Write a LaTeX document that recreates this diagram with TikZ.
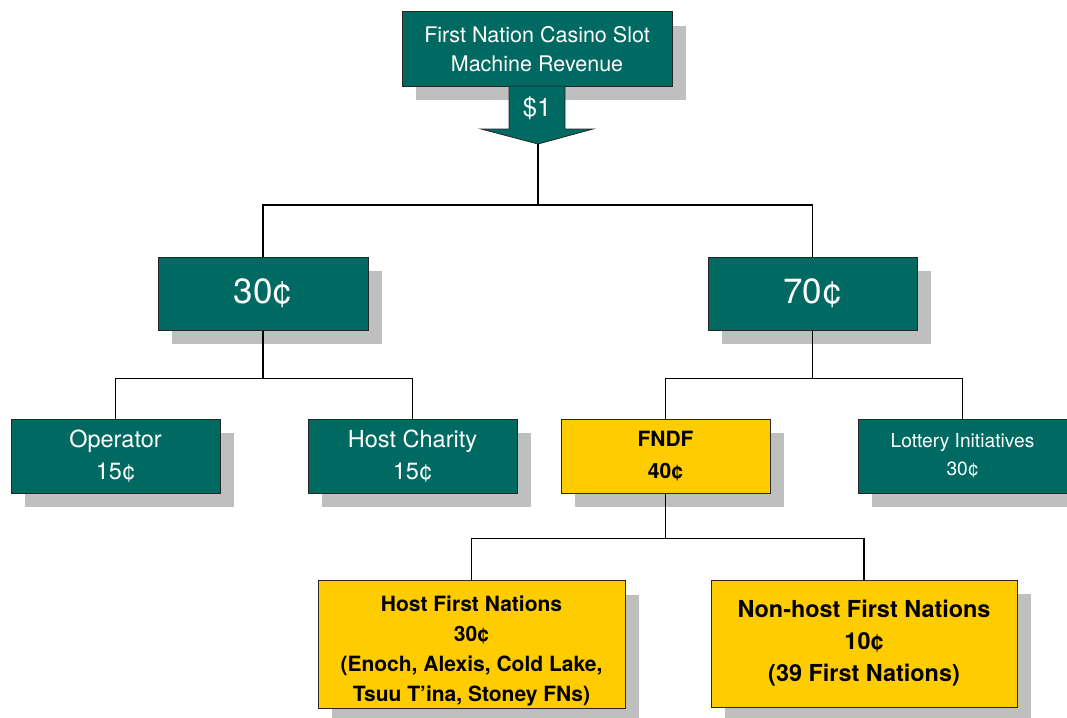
\documentclass[tikz,border=0pt]{standalone}
\usepackage{fontspec}
\setmainfont{TeX Gyre Heros}
\usetikzlibrary{shadows}
\definecolor{casteal}{RGB}{0,106,98}
\definecolor{fndgold}{RGB}{255,204,0}
\definecolor{shade}{RGB}{191,191,191}
\begin{document}
\begin{tikzpicture}[x=1pt,y=-1pt,
    box/.style={rectangle,draw=black!85,line width=1pt,align=center,
      inner sep=2pt,general shadow={fill=shade,shadow xshift=14pt,
        shadow yshift=-14pt}},
    tealbox/.style={box,fill=casteal,text=white},
    goldbox/.style={box,fill=fndgold,text=black,font=\bfseries},
    link/.style={draw=black,line width=1.1pt}]
  \useasboundingbox (0,0) rectangle (1067,717);

  \node[tealbox,minimum width=270pt,minimum height=74pt,font=\fontsize{21.5}{29}\selectfont]
    (rev) at (537,49) {First Nation Casino Slot\\Machine Revenue};
  % the $1 arrow
  \filldraw[fill=casteal,draw=black!85,line width=0.8pt]
    (509,86) -- (565,86) -- (565,129) -- (593,129) -- (538,144) coordinate (tip)
    -- (481,129) -- (509,129) -- cycle;
  \node[text=white,font=\fontsize{25.5}{28}\selectfont] (one) at (537,108) {\$1};

  \node[tealbox,minimum width=210pt,minimum height=73pt,font=\fontsize{35}{38}\selectfont]
    (a30) at (263,293.5) {30¢};
  \node[tealbox,minimum width=209pt,minimum height=73pt,font=\fontsize{35}{38}\selectfont]
    (a70) at (812.5,293.5) {70¢};

  \node[tealbox,minimum width=209pt,minimum height=74pt,font=\fontsize{23.5}{32}\selectfont]
    (op) at (115.5,456) {Operator\\15¢};
  \node[tealbox,minimum width=209pt,minimum height=74pt,font=\fontsize{23.5}{32}\selectfont]
    (hc) at (412.5,456) {Host Charity\\15¢};
  \node[goldbox,minimum width=209pt,minimum height=74pt,font=\bfseries\fontsize{21}{32}\selectfont]
    (fndf) at (665.5,456) {FNDF\\40¢};
  \node[tealbox,minimum width=209pt,minimum height=74pt,font=\fontsize{19.2}{28}\selectfont]
    (lot) at (962.5,456) {Lottery Initiatives\\30¢};

  \node[goldbox,minimum width=307pt,minimum height=125pt,font=\bfseries\fontsize{21}{30}\selectfont]
    (hfn) at (471.5,644.5) {\rule{0pt}{29pt}Host First Nations\\30¢\\(Enoch, Alexis, Cold Lake,\\Tsuu T’ina, Stoney FNs)};
  \node[goldbox,minimum width=306pt,minimum height=127pt,font=\bfseries\fontsize{23.4}{32}\selectfont]
    (nhfn) at (864,643.5) {Non-host First Nations\\10¢\\(39 First Nations)};

  % connectors
  \draw[link] (tip) -- ++(0,61) coordinate (j1);
  \draw[link] (a30.north) |- (j1) -| (a70.north);
  \draw[link] (a30.south) -- ++(0,48) coordinate (j2);
  \draw[link] (op.north) |- (j2) -| (hc.north);
  \draw[link] (a70.south) -- ++(0,48) coordinate (j3);
  \draw[link] (fndf.north) |- (j3) -| (lot.north);
  \draw[link] (fndf.south) -- ++(0,45) coordinate (j4);
  \draw[link] (hfn.north) |- (j4) -| (nhfn.north);
\end{tikzpicture}
\end{document}
